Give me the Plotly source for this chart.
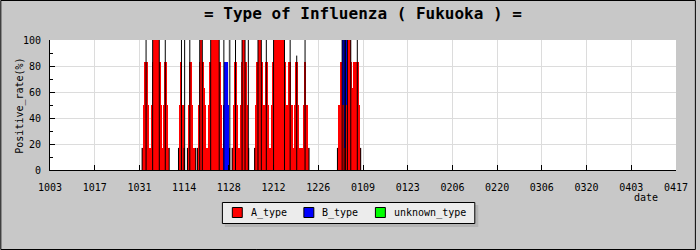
import plotly.graph_objects as go

# ---------------- data ----------------
title_text = "= Type of Influenza ( Fukuoka ) ="
tick_labels = ["1003", "1017", "1031", "1114", "1128", "1212", "1226", "0109",
               "0123", "0206", "0220", "0306", "0320", "0403", "0417"]
tick_step_days = 14
series_names = ["A_type", "B_type", "unknown_type"]
series_colors = ["#ff0000", "#0000ff", "#00ff00"]

# step start (days since Oct 3); each value holds until the next start
step_day = [28.84, 29.15, 29.46, 30.58, 30.89, 31.64, 31.95, 32.14, 34.22, 34.75,
            35.06, 35.56, 35.78, 36.49, 36.80, 37.33,
            40.23, 40.44, 40.76, 41.47, 41.69, 42.00,
            43.03, 43.34, 43.56, 44.40, 44.80, 45.64,
            46.14, 46.45, 46.67, 46.88, 47.69, 48.22, 48.53, 48.84,
            49.56, 49.93, 50.31, 52.98, 53.42, 53.82,
            54.30, 54.62, 55.60, 55.90, 56.25,
            57.03, 57.34, 57.65, 58.49, 58.80,
            59.64, 59.95, 60.14, 61.07, 61.38, 61.69, 62.22,
            64.09, 64.40, 64.71, 65.12, 66.17, 66.48, 66.80,
            67.29, 67.51, 68.13, 68.44,
            69.28, 69.69, 70.00, 73.42, 73.83, 74.14,
            74.45, 74.67, 75.60, 75.91,
            76.53, 76.84, 77.56, 77.87,
            79.24, 79.55, 80.27, 80.67, 81.11,
            90.00, 90.44, 90.94, 91.47, 92.09, 92.49, 93.11, 94.17, 94.58, 94.98,
            96.66, 96.97, 97.28]
a_rate = [17, 50, 83, 50, 17, 50, 83, 100, 83, 50,
          17, 50, 83, 50, 17, 0,
          17, 50, 83, 50, 17, 0,
          17, 50, 83, 50, 17, 0,
          17, 50, 83, 100, 83, 63, 50, 17,
          50, 83, 100, 83, 50, 17,
          0, 0, 0, 0, 0,
          17, 50, 83, 50, 17,
          50, 83, 100, 83, 50, 17, 0,
          17, 50, 83, 100, 83, 50, 17,
          50, 83, 50, 17,
          50, 83, 100, 83, 50, 17,
          50, 83, 50, 17,
          50, 83, 50, 17,
          50, 83, 50, 17, 0,
          17, 50, 83, 50, 17, 50, 100, 83, 63, 83,
          50, 17, 0]
b_rate = [0, 0, 0, 0, 0, 0, 0, 0, 0, 0,
          0, 0, 0, 0, 0, 0,
          0, 0, 0, 0, 0, 0,
          0, 0, 0, 0, 0, 0,
          0, 0, 0, 0, 0, 0, 0, 0,
          0, 0, 0, 0, 0, 0,
          50, 83, 50, 17, 0,
          0, 0, 0, 0, 0,
          0, 0, 0, 0, 0, 0, 0,
          0, 0, 0, 0, 0, 0, 0,
          0, 0, 0, 0,
          0, 0, 0, 0, 0, 0,
          0, 0, 0, 0,
          0, 0, 0, 0,
          0, 0, 0, 0, 0,
          0, 0, 0, 50, 83, 50, 0, 0, 0, 0,
          0, 0, 0]
unknown_rate = [0] * len(step_day)

# thin single-record spikes
spike_day = [30.08, 36.09, 41.16, 42.16, 43.77, 54.44, 56.30, 58.08, 62.10,
             67.73, 75.19, 77.25, 79.86, 96.22]
spike_rate = [100, 100, 100, 100, 100, 100, 100, 100, 100,
              100, 100, 88, 100, 100]

# ---------------- figure ----------------
MONO = "DejaVu Sans Mono"
n = len(step_day)
centers = [(step_day[i] + step_day[i + 1]) / 2 for i in range(n - 1)]
widths = [step_day[i + 1] - step_day[i] for i in range(n - 1)]

fig = go.Figure()
for vals, name, col in zip([a_rate, b_rate, unknown_rate], series_names, series_colors):
    fig.add_trace(go.Bar(x=centers, y=vals[:n - 1], width=widths, name=name,
                         marker=dict(color=col, line=dict(width=0)),
                         showlegend=False, hoverinfo="skip"))

# black edge lines: outer edges of each group, edges of full (100 %) blocks, spikes
tot = [a_rate[i] + b_rate[i] + unknown_rate[i] for i in range(n)]
lx, ly = [], []
for i in range(n):
    prev = tot[i - 1] if i > 0 else 0
    hi, lo = max(prev, tot[i]), min(prev, tot[i])
    if hi > 0 and (lo == 0 or hi >= 100):
        lx += [step_day[i], step_day[i], None]
        ly += [0, hi, None]
for d, r in zip(spike_day, spike_rate):
    lx += [d, d, None]
    ly += [0, r, None]
fig.add_trace(go.Scatter(x=lx, y=ly, mode="lines", line=dict(color="black", width=1),
                         showlegend=False, hoverinfo="skip"))

tickvals = [i * tick_step_days for i in range(len(tick_labels))]

L, R, T, B = 50, 20, 40, 80
PW, PH = 700 - L - R, 250 - T - B


def px(x):
    return (x - L) / PW


def py(y):
    return (T + PH - y) / PH


shapes = []
# outer border
shapes.append(dict(type="rect", xref="paper", yref="paper",
                   x0=px(0.5), x1=px(699.5), y0=py(249.5), y1=py(0.5),
                   line=dict(color="black", width=1), layer="below"))
# legend shadow + box
shapes.append(dict(type="rect", xref="paper", yref="paper",
                   x0=px(226), x1=px(481), y0=py(227), y1=py(205),
                   fillcolor="#b4b4b4", line=dict(width=0)))
shapes.append(dict(type="rect", xref="paper", yref="paper",
                   x0=px(223.5), x1=px(477.5), y0=py(223.5), y1=py(202.5),
                   fillcolor="#ececec", line=dict(color="black", width=1)))
annotations = []
legend_x = [233, 305, 377]
for lxp, name, col in zip(legend_x, series_names, series_colors):
    shapes.append(dict(type="rect", xref="paper", yref="paper",
                       x0=px(lxp + 0.5), x1=px(lxp + 10.5), y0=py(217.5), y1=py(207.5),
                       fillcolor=col, line=dict(color="black", width=1)))
    annotations.append(dict(x=px(lxp + 17), y=py(213), xref="paper", yref="paper",
                            text=name, showarrow=False, xanchor="left", yanchor="middle",
                            font=dict(family=MONO, size=10, color="black")))

annotations.append(dict(x=px(650), y=py(197), xref="paper", yref="paper", text="date",
                        showarrow=False, xanchor="center", yanchor="middle",
                        font=dict(family=MONO, size=10, color="black")))
annotations.append(dict(x=px(19), y=py(105.5), xref="paper", yref="paper",
                        text="Positive_rate(%)", textangle=-90, showarrow=False,
                        xanchor="center", yanchor="middle",
                        font=dict(family=MONO, size=10, color="black")))
annotations.append(dict(x=0.5, y=py(13), xref="paper", yref="paper",
                        text="<b>" + title_text + "</b>", showarrow=False,
                        xanchor="center", yanchor="middle",
                        font=dict(family=MONO, size=16, color="black")))

fig.update_layout(
    width=700, height=250,
    margin=dict(l=L, r=R, t=T, b=B, pad=0),
    paper_bgcolor="#c8c8c8", plot_bgcolor="white",
    barmode="stack", bargap=0,
    showlegend=False,
    shapes=shapes, annotations=annotations,
    xaxis=dict(range=[0, tickvals[-1]], tickvals=tickvals, ticktext=tick_labels,
               ticks="inside", ticklen=5, tickcolor="black",
               showline=True, linecolor="black", linewidth=1,
               showgrid=True, gridcolor="#dcdcdc", gridwidth=1, zeroline=False,
               tickfont=dict(family=MONO, size=10, color="black"),
               ticklabelstandoff=8, fixedrange=True),
    yaxis=dict(range=[0, 100], dtick=20, ticks="inside", ticklen=5, tickcolor="black",
               minor=dict(ticks="inside", ticklen=3, dtick=10, tickcolor="black", showgrid=False),
               showline=True, linecolor="black", linewidth=1,
               showgrid=True, gridcolor="#dcdcdc", gridwidth=1, zeroline=False,
               tickfont=dict(family=MONO, size=10, color="black"),
               ticklabelstandoff=6, fixedrange=True),
)

fig.write_html("out.html")
